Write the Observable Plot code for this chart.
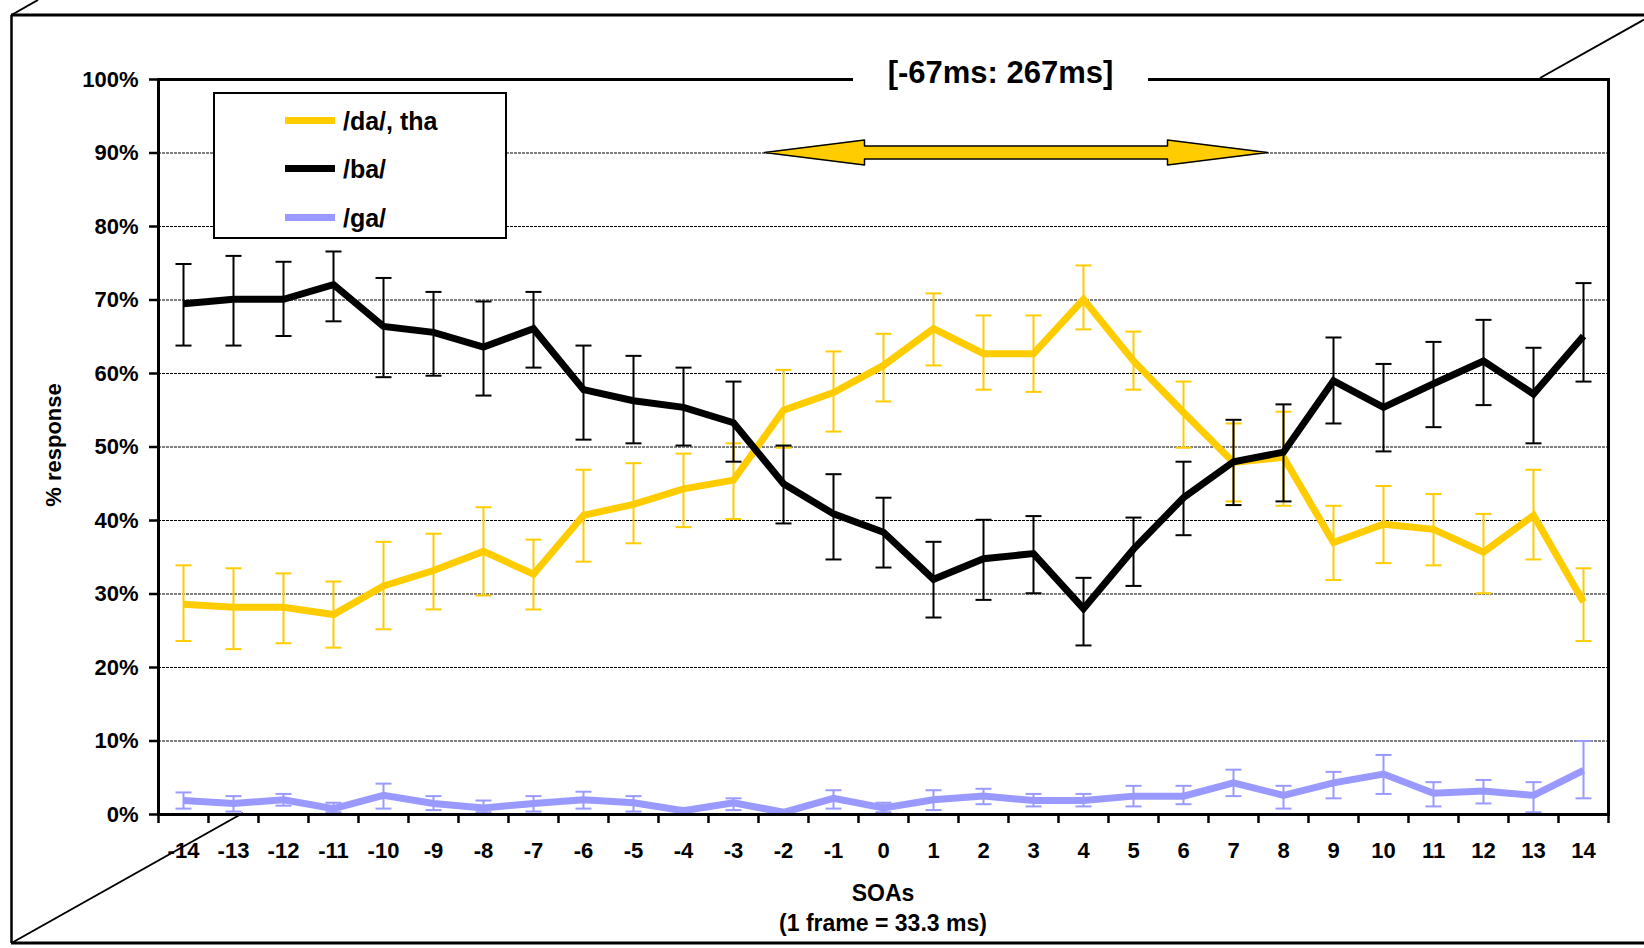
<!DOCTYPE html>
<html>
<head>
<meta charset="utf-8">
<script src="https://cdn.jsdelivr.net/npm/d3@7"></script>
<script src="https://cdn.jsdelivr.net/npm/@observablehq/plot@0.6"></script>
<style>
  html, body { margin: 0; padding: 0; background: #fff; overflow: hidden; }
  #wrap { position: relative; width: 1644px; height: 948px; font-family: 'Liberation Sans', Arial, sans-serif; font-weight: bold; color: #000; }
  #wrap > * { position: absolute; }
  .title { left: 853px; top: 53px; width: 295px; height: 40px; line-height: 40px; background: #fff; text-align: center; font-size: 31px; white-space: nowrap; }
  .legend { left: 213px; top: 92px; width: 294px; height: 147px; box-sizing: border-box; border: 2px solid #000; background: #fff; }
  .legend .sw { position: absolute; left: 70px; width: 50px; height: 7px; }
  .legend .lt { position: absolute; left: 128px; font-size: 25px; line-height: 30px; white-space: nowrap; }
  .ytitle { left: 54px; top: 445px; transform: translate(-50%, -50%) rotate(-90deg); font-size: 22px; white-space: nowrap; }
  .xtitle { left: 883px; transform: translateX(-50%); font-size: 23px; white-space: nowrap; line-height: 26px; }
</style>
</head>
<body>
<div id="wrap"></div>
<script>
// ---- data ----
const soa = [-14,-13,-12,-11,-10,-9,-8,-7,-6,-5,-4,-3,-2,-1,0,1,2,3,4,5,6,7,8,9,10,11,12,13,14];

const da   = [28.6,28.2,28.2,27.2,31.1,33.2,35.8,32.7,40.7,42.2,44.3,45.5,55.0,57.4,61.1,66.1,62.7,62.7,70.1,61.7,54.7,47.9,48.6,37.0,39.5,38.8,35.7,40.7,28.9];
const daHi = [33.9,33.5,32.8,31.7,37.1,38.2,41.8,37.4,46.9,47.8,49.1,50.5,60.5,63.0,65.4,70.9,67.9,67.9,74.7,65.7,58.9,53.2,54.8,42.0,44.7,43.6,40.9,46.9,33.5];
const daLo = [23.6,22.5,23.3,22.7,25.2,27.9,29.8,27.9,34.4,36.9,39.1,40.2,49.9,52.1,56.2,61.1,57.8,57.5,66.0,57.8,49.9,42.6,42.0,31.9,34.2,33.9,30.1,34.7,23.6];

const ba   = [69.5,70.1,70.1,72.1,66.4,65.6,63.6,66.1,57.8,56.3,55.4,53.3,45.0,40.9,38.4,32.0,34.8,35.5,28.0,36.1,43.1,48.0,49.3,59.0,55.4,58.6,61.7,57.2,65.1];
const baHi = [74.9,76.0,75.2,76.6,73.0,71.1,69.8,71.1,63.8,62.4,60.8,58.9,50.2,46.3,43.1,37.1,40.1,40.6,32.2,40.4,48.0,53.7,55.8,64.9,61.3,64.3,67.3,63.5,72.3];
const baLo = [63.8,63.8,65.1,67.1,59.5,59.7,57.0,60.8,51.0,50.5,50.2,48.0,39.6,34.7,33.6,26.8,29.2,30.1,23.0,31.1,38.0,42.1,42.6,53.2,49.4,52.7,55.7,50.5,58.9];

const ga   = [1.9,1.5,2.0,0.8,2.6,1.5,0.9,1.5,2.0,1.6,0.5,1.6,0.3,2.2,0.9,2.0,2.5,1.9,1.9,2.5,2.5,4.3,2.6,4.3,5.5,2.9,3.2,2.6,6.0];
const gaHi = [3.0,2.5,2.8,1.6,4.2,2.5,1.9,2.5,3.1,2.5,0.9,2.2,0.3,3.3,1.6,3.3,3.5,2.8,2.8,3.9,3.9,6.1,3.9,5.8,8.1,4.4,4.7,4.4,10.0];
const gaLo = [0.8,0.4,1.2,0.3,0.8,0.6,0.3,0.4,0.8,0.4,0.1,0.6,0.3,0.8,0.3,0.6,1.4,1.1,1.1,1.1,1.4,2.5,0.8,2.2,2.8,1.1,1.5,0.3,2.2];

const seriesNames = ["/da/, tha", "/ba/", "/ga/"];
const yTicks = [0,10,20,30,40,50,60,70,80,90,100];
const gridLevels = [10,20,30,40,50,60,70,80,90];
const titleText = "[-67ms: 267ms]";
const arrowSpan = [-2.37, 7.69];   // SOA extent of the double arrow
const arrowLevel = 90;
const xTitle = "SOAs";
const xSubtitle = "(1 frame = 33.3 ms)";
const yTitle = "% response";

// ---- styles ----
const colors = ["#FFCC00", "#000000", "#9999FF"];
const capHalf = 0.16, lineW = 7, barW = 2;

const tables = [[da, daLo, daHi], [ba, baLo, baHi], [ga, gaLo, gaHi]].map(([v, lo, hi]) =>
  soa.map((s, i) => ({s, v: v[i], lo: lo[i], hi: hi[i]})));

const bounds = soa.map(s => s - 0.5).concat([soa[soa.length - 1] + 0.5]);

// arrow polygon built from span & level
const headLen = 2.0, headHalf = 1.7, shaftHalf = 0.9;
const [a0, a1] = arrowSpan;
const arrowPts = [
  {x: a0, y1: arrowLevel, y2: arrowLevel},
  {x: a0 + headLen, y1: arrowLevel - headHalf, y2: arrowLevel + headHalf},
  {x: a0 + headLen, y1: arrowLevel - shaftHalf, y2: arrowLevel + shaftHalf},
  {x: a1 - headLen, y1: arrowLevel - shaftHalf, y2: arrowLevel + shaftHalf},
  {x: a1 - headLen, y1: arrowLevel - headHalf, y2: arrowLevel + headHalf},
  {x: a1, y1: arrowLevel, y2: arrowLevel}
];

const seriesMarks = [];
tables.forEach((rows, k) => {
  const c = colors[k];
  seriesMarks.push(
    Plot.ruleX(rows, {x: "s", y1: "lo", y2: "hi", stroke: c, strokeWidth: barW}),
    Plot.link(rows, {x1: d => d.s - capHalf, x2: d => d.s + capHalf, y1: "hi", y2: "hi", stroke: c, strokeWidth: barW}),
    Plot.link(rows, {x1: d => d.s - capHalf, x2: d => d.s + capHalf, y1: "lo", y2: "lo", stroke: c, strokeWidth: barW}),
    Plot.line(rows, {x: "s", y: "v", stroke: c, strokeWidth: lineW, strokeLinejoin: "miter", strokeMiterlimit: 3, strokeLinecap: "butt"})
  );
});

const chart = Plot.plot({
  width: 1644,
  height: 948,
  marginLeft: 158,
  marginRight: 36,
  marginTop: 79,
  marginBottom: 134,
  style: {fontFamily: "'Liberation Sans', Arial, sans-serif", background: "transparent", color: "#000", overflow: "visible"},
  x: {domain: [-14.5, 14.5]},
  y: {domain: [0, 100]},
  marks: [
    Plot.ruleY(gridLevels, {stroke: "#000", strokeWidth: 1, strokeDasharray: "3,1"}),
    Plot.areaY(arrowPts, {x: "x", y1: "y1", y2: "y2", fill: "#FFCC00", stroke: "#000", strokeWidth: 1.5, curve: "linear"}),
    ...seriesMarks,
    Plot.frame({stroke: "#000", strokeWidth: 3}),
    Plot.axisY({ticks: yTicks, tickFormat: d => d + "%", tickSize: 9, tickPadding: 11, fontSize: 22, fontWeight: "bold", strokeWidth: 2.5, label: null}),
    Plot.axisX({ticks: bounds, tickFormat: () => "", tickSize: 9, strokeWidth: 2.5, label: null}),
    Plot.axisX({ticks: soa, tickFormat: d => String(d), tickSize: 0, tickPadding: 28, fontSize: 22, fontWeight: "bold", label: null})
  ]
});

const wrap = document.getElementById("wrap");
chart.style.left = "0px"; chart.style.top = "0px";
wrap.appendChild(chart);

// title (interrupts plot top border)
const t = document.createElement("div");
t.className = "title"; t.textContent = titleText;
wrap.appendChild(t);

// legend
const lg = document.createElement("div");
lg.className = "legend";
const rowY = [26, 74, 123];
seriesNames.forEach((name, k) => {
  const sw = document.createElement("div");
  sw.className = "sw"; sw.style.background = colors[k]; sw.style.top = (rowY[k] - 3.5) + "px";
  const lt = document.createElement("div");
  lt.className = "lt"; lt.textContent = name; lt.style.top = (rowY[k] - 14) + "px";
  lg.appendChild(sw); lg.appendChild(lt);
});
wrap.appendChild(lg);

// axis titles
const yt = document.createElement("div");
yt.className = "ytitle"; yt.textContent = yTitle; wrap.appendChild(yt);
const xt = document.createElement("div");
xt.className = "xtitle"; xt.style.top = "880px"; xt.textContent = xTitle; wrap.appendChild(xt);
const xs = document.createElement("div");
xs.className = "xtitle"; xs.style.top = "910px"; xs.textContent = xSubtitle; wrap.appendChild(xs);

// outer perspective frame (decoration)
const ns = "http://www.w3.org/2000/svg";
const fr = document.createElementNS(ns, "svg");
fr.setAttribute("width", 1644); fr.setAttribute("height", 948);
fr.style.left = "0px"; fr.style.top = "0px"; fr.style.pointerEvents = "none";
[[11, 15, 1644, 15, 3], [11.5, 15, 11.5, 943, 2.5], [11, 943, 1644, 943, 3],
 [11.5, 943, 243, 813, 2], [1540, 78, 1644, 19.5, 2], [11.5, 15, 38, 0, 2]].forEach(([x1, y1, x2, y2, w]) => {
  const l = document.createElementNS(ns, "line");
  l.setAttribute("x1", x1); l.setAttribute("y1", y1); l.setAttribute("x2", x2); l.setAttribute("y2", y2);
  l.setAttribute("stroke", "#000"); l.setAttribute("stroke-width", w);
  fr.appendChild(l);
});
wrap.appendChild(fr);
</script>
</body>
</html>
